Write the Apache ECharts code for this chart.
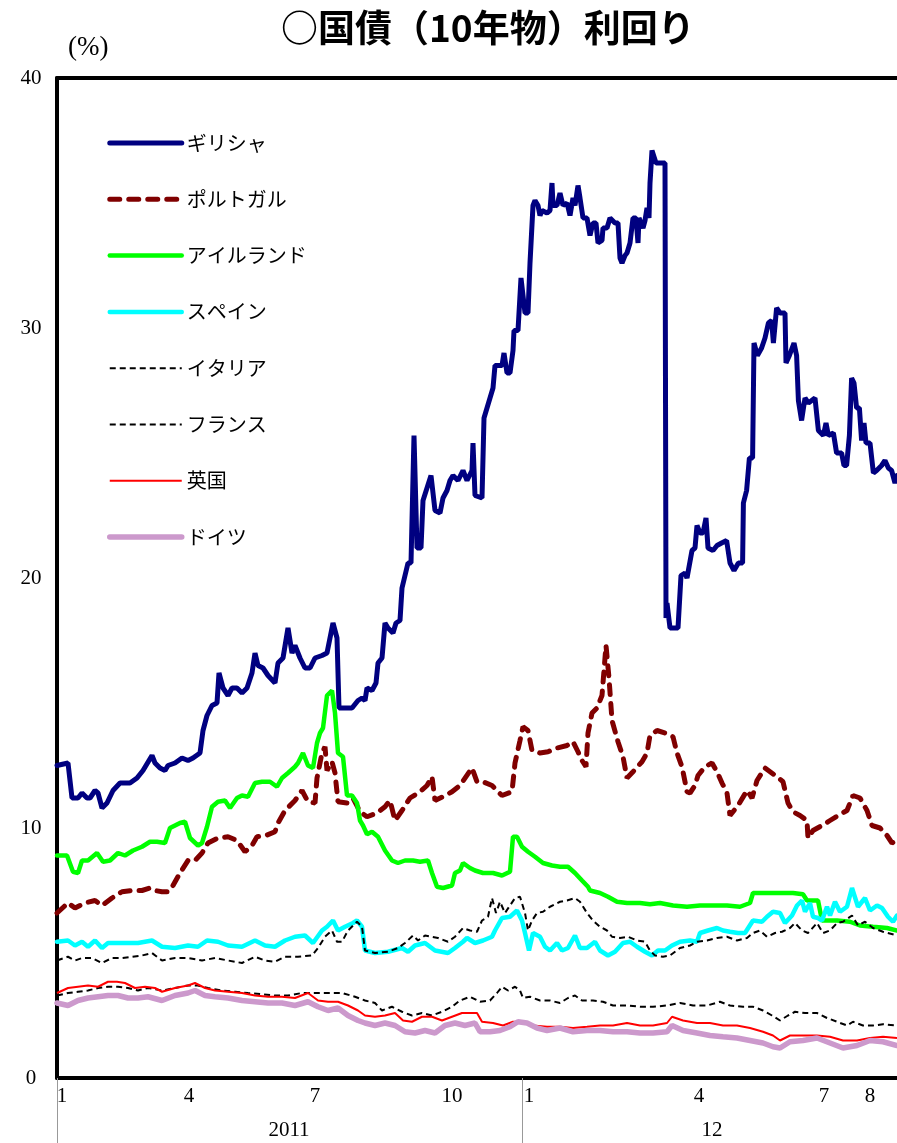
<!DOCTYPE html>
<html><head><meta charset="utf-8">
<script src="https://cdn.jsdelivr.net/npm/echarts@6/dist/echarts.min.js"></script>
<style>html,body{margin:0;padding:0;background:#fff}#c{width:897px;height:1143px}</style>
</head><body><div id="c"></div>
<script>
// x = trading-day index from early January 2011; y = yield (%)
const seriesNames = ['ギリシャ','ポルトガル','アイルランド','スペイン','イタリア','フランス','英国','ドイツ'];

const greece = [[0,12.5],[5.5,12.6],[7.5,11.2],[10.5,11.2],[12.5,11.4],[15,11.2],[16.5,11.2],[19,11.5],[20.5,11.4],[22.5,10.8],
[25,11.0],[28,11.5],[31.5,11.8],[33,11.8],[36.5,11.8],[40,12.0],[43,12.3],[47.5,12.9],[49,12.6],[51.5,12.4],
[54,12.3],[55.5,12.5],[59,12.6],[62.5,12.8],[65.5,12.7],[68,12.8],[71.5,13.0],[73,13.9],[75,14.5],[77.5,14.9],
[80,15.0],[81,16.2],[83,15.6],[85.5,15.3],[87.5,15.6],[90,15.6],[92.5,15.4],[95,15.6],[97.5,16.2],[99,17.0],
[100.5,16.5],[103,16.4],[105.5,16.1],[109,15.8],[110.5,16.6],[113,16.8],[115.5,18.0],[117.5,17.0],[119,17.3],[121.5,16.8],
[124,16.4],[126.5,16.4],[129,16.8],[132.5,16.9],[135,17.0],[136.5,17.6],[138,18.2],[140,17.6],[141,14.8],[144,14.8],
[147.5,14.8],[150.5,15.1],[152.5,15.2],[154,15.1],[155,15.6],[157.5,15.5],[159.5,15.8],[160.5,16.6],[162.5,16.8],[164,18.2],
[165.5,18.0],[168,17.8],[169.5,18.2],[171.5,18.3],[172.5,19.6],[174,20.1],[175.5,20.6],[177,20.6],[178.5,25.7],[180,21.2],
[182,21.2],[183,23.1],[185,23.6],[187,24.1],[189,22.7],[191.5,22.6],[193,23.2],[195,23.5],[196.5,23.9],[198,24.1],
[200.5,23.9],[203,24.3],[205,23.9],[207.5,24.3],[208,25.4],[209,23.3],[212.5,23.2],[213.5,26.4],[215,26.8],[218,27.6],
[219,28.5],[222.5,28.5],[223.5,29.0],[225,28.2],[226.5,28.2],[228,29.1],[228.5,29.9],[230.5,29.9],[232,32.0],[233,32.0],
[234,30.6],[235.5,30.6],[236.5,32.6],[238,34.9],[239,35.1],[240.5,34.9],[241.5,34.5],[242.5,34.7],[245,34.6],[246.5,34.7],
[247.5,35.8],[248,34.9],[250,34.9],[251.5,35.4],[253,34.9],[255,35.0],[256.5,34.5],[258,35.2],[259,34.9],[260.5,35.7],
[261.5,35.2],[263,34.4],[265,34.4],[266.5,33.7],[268,34.2],[269.5,34.2],[270.5,33.4],[272.5,33.5],[273,34.0],[275,34.0],
[276.5,34.4],[279,34.2],[280.5,34.2],[281.5,32.8],[282.5,32.6],[284,32.9],[285,33.0],[286.5,33.4],[288,34.4],[289.5,34.4],
[290.5,33.4],[291,34.4],[293,34.0],[294,34.3],[295,34.8],[296,34.4],[296.5,35.8],[297.5,37.1],[298.5,37.1],[299.5,36.6],
[304,36.6],[304.5,18.4],[305,19.0],[306.5,18.0],[310.5,18.0],[312,20.1],[314,20.2],[315,20.0],[317.5,21.1],[319,21.2],
[320,22.1],[321.5,21.8],[323,21.8],[324.5,22.4],[325.5,21.2],[328,21.1],[330,21.3],[332.3,21.4],[334.8,21.5],[336.5,20.6],
[338.5,20.3],[340.7,20.6],[342.8,20.6],[343.2,23.0],[344.8,23.5],[346.2,24.8],[347.8,24.8],[348.5,29.4],[350.2,28.9],[352.3,29.2],
[354,29.6],[355.7,30.2],[357.3,30.3],[358.2,29.4],[359.8,30.8],[361.5,30.6],[364,30.6],[364.5,28.6],[366.2,28.9],[368.5,29.4],
[369.8,28.9],[370.7,27.1],[372.3,26.3],[374,27.2],[375.7,27.0],[379,27.2],[380.7,25.9],[383.2,25.7],[384.5,26.2],[385.7,25.7],
[388.2,25.8],[389.8,25.0],[392.3,25.0],[393.5,24.5],[394.8,24.5],[396.2,25.7],[397.3,28.0],[398.5,27.8],[399.8,26.8],[401.2,26.8],
[402.3,25.5],[403.5,26.2],[404.5,25.4],[406.5,25.4],[408.2,24.2],[409.8,24.3],[412.3,24.5],[414,24.7],[415.7,24.4],[417.3,24.3],
[419,23.8],[420,24.1]];

const portugal = [[0,6.6],[5.5,7.0],[9,6.8],[14,7.0],[19,7.1],[22.5,6.9],[27.5,7.2],[32.5,7.45],[37.5,7.5],[42.5,7.5],
[46.5,7.6],[49,7.5],[52.5,7.45],[55.5,7.45],[58,7.7],[61.5,8.2],[65.5,8.7],[69,8.7],[72.5,9.0],[75.5,9.4],
[80.5,9.6],[85.5,9.65],[90,9.5],[94,9.05],[97.5,9.3],[100,9.65],[104.5,9.7],[109,9.85],[110.5,10.2],[114,10.7],
[119,11.1],[122.5,11.5],[125.5,11.05],[129,11.0],[130,12.0],[132.5,13.0],[134,13.25],[135,12.3],[137.5,12.65],[139,12.2],
[140.5,11.05],[145,11.0],[148,11.2],[151.5,10.65],[155,10.45],[160,10.6],[164,10.85],[166.5,11.1],[169,10.3],[172.5,10.7],
[176.5,11.2],[181.5,11.45],[185,11.7],[187.5,12.05],[189,11.1],[193,11.25],[197.5,11.45],[201.5,11.7],[207.5,12.4],[210,11.85],
[213,11.85],[217.5,11.7],[222.5,11.3],[227.5,11.45],[229,12.6],[231.5,13.5],[233,14.05],[235.5,13.9],[237.5,13.1],[241.5,13.0],
[245.5,13.05],[250,13.2],[255,13.3],[258,13.45],[260.5,13.05],[262.5,12.7],[264.5,12.45],[265.5,13.8],[267.5,14.6],[270,14.8],
[272.5,15.3],[274.5,17.3],[276,16.0],[277.5,14.3],[280.5,13.45],[283,12.85],[285,12.0],[288,12.25],[292.5,12.65],[295,13.0],
[296.5,13.7],[300,13.9],[304,13.8],[308,13.65],[310,13.0],[312.5,12.45],[315,11.45],[316.5,11.4],[319,11.7],[320.5,12.1],
[324,12.45],[327.5,12.6],[330,12.25],[332.5,11.8],[335,11.4],[336.5,10.5],[340.5,10.9],[345,11.5],[347.5,11.2],[350,11.9],
[354,12.4],[360,12.05],[363,11.85],[365.5,11.0],[368,10.65],[371.5,10.5],[375,10.3],[375.5,9.6],[378,9.9],[382.5,10.1],
[386.5,10.3],[390.5,10.5],[395,10.7],[398,11.3],[401.5,11.2],[405,10.7],[407.5,10.1],[411.5,10.0],[415,9.7],[417.5,9.4],[420,9.5]];

const ireland = [[0,8.9],[5,8.9],[8,8.25],[10.5,8.2],[12.5,8.7],[15.5,8.7],[20,9.0],[23,8.65],[26.5,8.7],[30.5,9.0],
[34,8.9],[38,9.1],[42.5,9.25],[46.5,9.45],[50,9.45],[54,9.4],[56.5,10.0],[61.5,10.2],[64,10.25],[66.5,9.6],
[70.5,9.3],[72.5,9.4],[75,10.05],[77.5,10.85],[80.5,11.05],[84,11.1],[86.5,10.8],[90,11.2],[92.5,11.3],[95.5,11.25],
[99,11.8],[102.5,11.85],[106.5,11.85],[110,11.65],[112.5,12.0],[115.5,12.2],[119,12.45],[120.5,12.6],[123,13.0],[125.5,12.5],
[128,12.4],[130,13.4],[131.5,13.8],[133,14.0],[135,15.3],[137.5,15.5],[139,14.6],[140.5,13.0],[143,12.85],[145,11.3],
[147.5,11.3],[150,11.0],[151.5,10.3],[153,10.1],[155,9.75],[157.5,9.85],[160.5,9.65],[164,9.1],[167.5,8.7],[170.5,8.6],
[174,8.7],[178,8.7],[181.5,8.65],[185.5,8.7],[187.5,8.2],[190,7.65],[193,7.6],[197.5,7.7],[199,8.2],[201.5,8.3],
[203,8.6],[206.5,8.4],[209,8.3],[213,8.2],[218,8.2],[222.5,8.1],[226.5,8.25],[228,9.65],[230,9.65],[232.5,9.25],
[235.5,9.05],[239,8.85],[243,8.6],[247.5,8.5],[251.5,8.45],[255.5,8.45],[259,8.2],[262.5,7.9],[265.5,7.65],[266.5,7.5],
[271.5,7.4],[275.5,7.25],[280,7.05],[285,7.0],[291.5,7.0],[296.5,6.95],[301.5,7.0],[308,6.9],[315,6.85],[321.5,6.9],
[328,6.9],[335,6.9],[341.5,6.85],[346.5,7.0],[348,7.4],[355,7.4],[361.5,7.4],[368,7.4],[373,7.35],[375,7.1],
[380.5,7.1],[382.5,6.3],[390,6.3],[396.5,6.25],[401.5,6.1],[408,6.05],[415,6.0],[420,5.9]];

const spain = [[0,5.45],[5.5,5.5],[9,5.3],[12.5,5.45],[15.5,5.25],[19,5.5],[22.5,5.2],[25.5,5.4],[30.5,5.4],[35.5,5.4],
[40.5,5.4],[47.5,5.5],[52.5,5.25],[59,5.2],[65.5,5.3],[70.5,5.25],[75,5.5],[80.5,5.45],[85.5,5.3],[92.5,5.25],
[99,5.5],[104,5.3],[109,5.25],[114,5.5],[119,5.65],[124,5.7],[128,5.4],[132.5,5.9],[135,6.05],[138,6.3],
[140.5,5.9],[144,6.05],[148,6.2],[150,6.3],[152.5,6.05],[154,5.1],[159,5.0],[165.5,5.05],[172.5,5.2],[175.5,5.05],
[179,5.3],[184,5.4],[189,5.1],[195.5,5.0],[199,5.2],[203,5.45],[205,5.6],[209,5.4],[213,5.5],[217.5,5.65],
[219,5.9],[222.5,6.4],[226.5,6.45],[230,6.7],[232.5,6.3],[234,5.8],[236,5.1],[238,5.8],[241.5,5.65],[244,5.25],
[246.5,5.1],[250,5.4],[252.5,5.1],[255.5,5.2],[259,5.7],[261.5,5.2],[265,5.2],[269,5.45],[271.5,5.1],[275.5,4.9],
[279,5.05],[283,5.4],[286.5,5.45],[290,5.25],[294,5.05],[297.5,4.9],[300.5,5.1],[304,5.1],[307.5,5.3],[311.5,5.45],
[316.5,5.5],[320,5.45],[321.5,5.8],[325.5,5.9],[330,6.0],[333,5.9],[336.5,5.85],[340.5,5.8],[344,5.8],[348,6.3],
[352.5,6.25],[355,6.45],[358,6.65],[361.5,6.6],[364,6.2],[367.5,6.5],[370,6.9],[372.5,7.1],[374,6.65],[376.5,7.0],
[378,6.45],[380.5,6.4],[382.5,6.3],[385,6.85],[386.5,6.5],[389,7.05],[391.5,6.65],[395,6.85],[397.5,7.6],[400.5,6.85],
[404,7.2],[406.5,6.7],[410,6.9],[412.5,6.8],[415.5,6.45],[418,6.25],[420,6.5]];

const italy = [[0,4.7],[5.5,4.85],[9,4.7],[12.5,4.8],[17.5,4.8],[22.5,4.6],[27.5,4.8],[32.5,4.8],[37.5,4.85],[42.5,4.9],
[47.5,5.0],[52.5,4.7],[59,4.8],[65.5,4.8],[72.5,4.7],[79,4.8],[85.5,4.7],[92.5,4.6],[99,4.85],[104,4.7],
[109,4.65],[114,4.85],[120.5,4.85],[127.5,4.9],[130.5,5.2],[134,5.65],[137.5,5.9],[140,5.45],[142.5,5.45],[145.5,5.9],
[150,6.25],[152.5,6.05],[154,5.1],[159,5.0],[165.5,5.05],[170.5,5.2],[174,5.4],[178,5.7],[180.5,5.5],[184,5.7],
[190.5,5.6],[195.5,5.45],[199,5.65],[203,6.0],[206.5,5.9],[210,5.85],[212.5,6.3],[215.5,6.45],[217.5,7.2],[219.5,6.6],
[221.5,7.05],[224,6.6],[226.5,6.9],[229,7.2],[231.5,7.25],[234,6.6],[235.5,5.9],[237.5,6.3],[240,6.6],[243,6.65],
[246.5,6.85],[251.5,7.05],[255,7.1],[259,7.2],[261.5,7.05],[265,6.6],[268,6.3],[271.5,6.05],[275,5.9],[277.5,5.65],
[281.5,5.6],[285.5,5.65],[290,5.5],[294,5.45],[296.5,5.1],[299,4.9],[303,4.85],[306.5,4.9],[311.5,5.2],[316.5,5.3],
[320,5.45],[325,5.5],[330,5.6],[335,5.65],[340,5.5],[345,5.6],[348,5.8],[351.5,5.9],[355,5.65],[359,5.8],
[362.5,5.85],[366.5,6.0],[369,6.2],[372.5,5.9],[375.5,5.8],[380,6.2],[383,5.8],[386.5,5.9],[390,6.2],[393,6.25],
[397.5,6.5],[400.5,6.1],[404,6.25],[408,6.0],[413,5.85],[420,5.7]];

const france = [[0,3.3],[5.5,3.4],[10.5,3.45],[15.5,3.5],[20.5,3.6],[25.5,3.65],[30.5,3.65],[35.5,3.6],[40.5,3.5],[45.5,3.6],
[52.5,3.5],[59,3.6],[65.5,3.7],[70.5,3.7],[75.5,3.6],[82.5,3.5],[89,3.45],[95.5,3.4],[102.5,3.35],[109,3.3],
[115.5,3.3],[122.5,3.4],[129,3.4],[135.5,3.4],[142.5,3.4],[149,3.25],[154,3.1],[159,3.0],[162.5,2.7],[167.5,2.85],
[172.5,2.65],[177.5,2.5],[182.5,2.6],[187.5,2.5],[192.5,2.65],[197.5,2.85],[201.5,3.1],[206.5,3.25],[211.5,3.05],[216.5,3.1],
[220,3.4],[222.5,3.65],[225.5,3.5],[229,3.65],[231.5,3.5],[233,3.2],[236.5,3.25],[241.5,3.1],[246.5,3.1],[251.5,3.0],
[255.5,3.2],[259,3.3],[262.5,3.1],[268,3.1],[273,3.05],[278,2.9],[285,2.9],[291.5,2.85],[298,2.85],[305,2.9],
[311.5,3.0],[318,2.9],[325,2.9],[331.5,3.05],[336.5,2.9],[343,2.85],[348,2.85],[353,2.7],[357.5,2.5],[361.5,2.3],
[365.5,2.5],[369,2.65],[374,2.6],[380,2.6],[385,2.4],[390,2.25],[395,2.1],[398,2.25],[403,2.1],[408,2.1],
[413,2.15],[420,2.1]];

const uk = [[0,3.4],[5.5,3.6],[10.5,3.65],[15.5,3.7],[20.5,3.65],[25.5,3.85],[30,3.85],[34,3.8],[39,3.6],[44,3.65],
[49,3.6],[52.5,3.45],[59,3.6],[65.5,3.7],[69,3.8],[74,3.6],[79,3.5],[85.5,3.45],[92.5,3.4],[99,3.3],
[105.5,3.25],[112.5,3.25],[119,3.2],[125.5,3.4],[130.5,3.1],[135.5,3.05],[140.5,3.05],[145.5,2.9],[150.5,2.7],[154,2.5],
[159,2.45],[164,2.5],[169,2.6],[173,2.3],[177.5,2.25],[182.5,2.45],[187.5,2.45],[192.5,2.3],[197.5,2.45],[202.5,2.6],
[207.5,2.6],[210,2.6],[212.5,2.25],[218,2.2],[223,2.1],[228,2.25],[233,2.25],[238,2.1],[245,2.05],[251.5,2.05],
[258,2.0],[265,2.05],[271.5,2.1],[278,2.1],[285,2.2],[291.5,2.1],[298,2.1],[305,2.2],[307.5,2.45],[313,2.3],
[320,2.2],[326.5,2.2],[333,2.1],[340,2.1],[346.5,2.0],[353,1.85],[358,1.7],[361.5,1.5],[366.5,1.7],[373,1.7],
[380,1.7],[386.5,1.65],[393,1.5],[400,1.5],[406.5,1.6],[413,1.65],[420,1.6]];

const germany = [[0,3.0],[5.5,2.9],[10.5,3.1],[15.5,3.2],[20.5,3.25],[25.5,3.3],[30.5,3.3],[35.5,3.2],[40.5,3.2],[45.5,3.25],
[52.5,3.1],[59,3.3],[65.5,3.4],[69,3.5],[74,3.3],[79,3.25],[85.5,3.2],[92.5,3.1],[99,3.05],[105.5,3.0],
[112.5,3.0],[119,2.9],[125.5,3.05],[130.5,2.85],[135.5,2.7],[140.5,2.8],[145.5,2.5],[150.5,2.3],[154,2.2],[159,2.1],
[164,2.2],[169,2.1],[174,1.85],[179,1.8],[184,1.9],[189,1.8],[194,2.1],[199,2.2],[204,2.1],[209,2.2],
[211.5,1.85],[216.5,1.85],[221.5,1.9],[226.5,2.05],[230.5,2.25],[235,2.2],[240,2.0],[245,1.9],[251.5,2.0],[258,1.85],
[265,1.9],[271.5,1.9],[278,1.85],[285,1.85],[291.5,1.8],[298,1.8],[305,1.85],[307.5,2.1],[313,1.9],[320,1.8],
[326.5,1.7],[333,1.65],[340,1.6],[346.5,1.5],[353,1.4],[358,1.25],[361.5,1.2],[366.5,1.45],[373,1.5],[380,1.6],
[386.5,1.4],[393,1.2],[400,1.3],[406.5,1.5],[413,1.45],[420,1.3]];

// axis tick labels
const monthTickDay = [2.5, 66, 129, 197.5, 236, 321, 383.5, 406.5];
const monthTickLabel = ['1','4','7','10','1','4','7','8'];
const yearTickDay = [116, 327.5];
const yearTickLabel = ['2011','12'];
const yearSeparatorDay = [0, 232.5];

const seriesData = [greece, portugal, ireland, spain, italy, france, uk, germany];
const seriesStyle = [
  {color:'#000080', width:5, type:'solid', cap:'round'},
  {color:'#800000', width:5, type:[10,9], cap:'round'},
  {color:'#00ff00', width:4.5, type:'solid', cap:'round'},
  {color:'#00ffff', width:4.5, type:'solid', cap:'round'},
  {color:'#000000', width:2, type:[6,4]},
  {color:'#000000', width:2, type:[6,4]},
  {color:'#ff0000', width:2, type:'solid'},
  {color:'#cc99cc', width:5.5, type:'solid', cap:'round'}
];

const NUM_FONT = 'Liberation Serif';
const JP_FONT = 'Noto Sans CJK JP';

const chart = echarts.init(document.getElementById('c'), null, {renderer:'canvas'});
const xBase = {type:'value', min:0, max:420, splitLine:{show:false}};
chart.setOption({
  animation:false,
  backgroundColor:'#fff',
  title:[
    {text:'○国債（10年物）利回り', left:276, top:4,
     textStyle:{fontFamily:JP_FONT, fontSize:37, fontWeight:'bold', color:'#000'}},
    {text:'(%)', left:63, top:29,
     textStyle:{fontFamily:NUM_FONT, fontSize:27, fontWeight:'normal', color:'#000'}}
  ],
  grid:{left:57, right:0, top:78, bottom:65, containLabel:false},
  legend:{
    orient:'vertical', left:107, top:133, padding:0,
    itemWidth:72, itemHeight:14, itemGap:36.3,
    itemStyle:{opacity:0},
    textStyle:{fontFamily:JP_FONT, fontSize:20, color:'#000', lineHeight:20},
    data:seriesNames.map((name, i) => ({
      name,
      itemStyle:{opacity:0},
      lineStyle:{width:seriesStyle[i].width, type:seriesStyle[i].type, cap:seriesStyle[i].cap || 'butt', color:seriesStyle[i].color}
    }))
  },
  xAxis:[
    Object.assign({}, xBase, {
      position:'bottom',
      axisLine:{show:true, onZero:false, lineStyle:{color:'#000', width:4}},
      axisTick:{show:true, customValues:yearSeparatorDay, length:65, lineStyle:{color:'#999', width:1}},
      axisLabel:{customValues:monthTickDay, margin:8,
        formatter:(v)=>{const i=monthTickDay.indexOf(v);return i>=0?monthTickLabel[i]:'';},
        fontFamily:NUM_FONT, fontSize:21, color:'#000'}
    }),
    Object.assign({}, xBase, {
      position:'bottom', offset:34,
      axisLine:{show:false}, axisTick:{show:false},
      axisLabel:{customValues:yearTickDay, margin:8,
        formatter:(v)=>{const i=yearTickDay.indexOf(v);return i>=0?yearTickLabel[i]:'';},
        fontFamily:NUM_FONT, fontSize:21, color:'#000'}
    }),
    Object.assign({}, xBase, {
      position:'top',
      axisLine:{show:true, onZero:false, lineStyle:{color:'#000', width:4}},
      axisTick:{show:false}, axisLabel:{show:false}
    })
  ],
  yAxis:{
    type:'value', min:0, max:40, interval:10,
    axisLine:{show:true, onZero:false, lineStyle:{color:'#000', width:4}},
    axisTick:{show:false}, splitLine:{show:false},
    axisLabel:{fontFamily:NUM_FONT, fontSize:21, color:'#000', align:'center', margin:26}
  },
  series: seriesNames.map((name, i) => ({
    name, type:'line', data:seriesData[i], xAxisIndex:0,
    symbol:'none', showSymbol:false, smooth:false,
    lineStyle:Object.assign({}, seriesStyle[i]),
    itemStyle:{color:seriesStyle[i].color},
    z: 2 + i
  }))
});
</script></body></html>
